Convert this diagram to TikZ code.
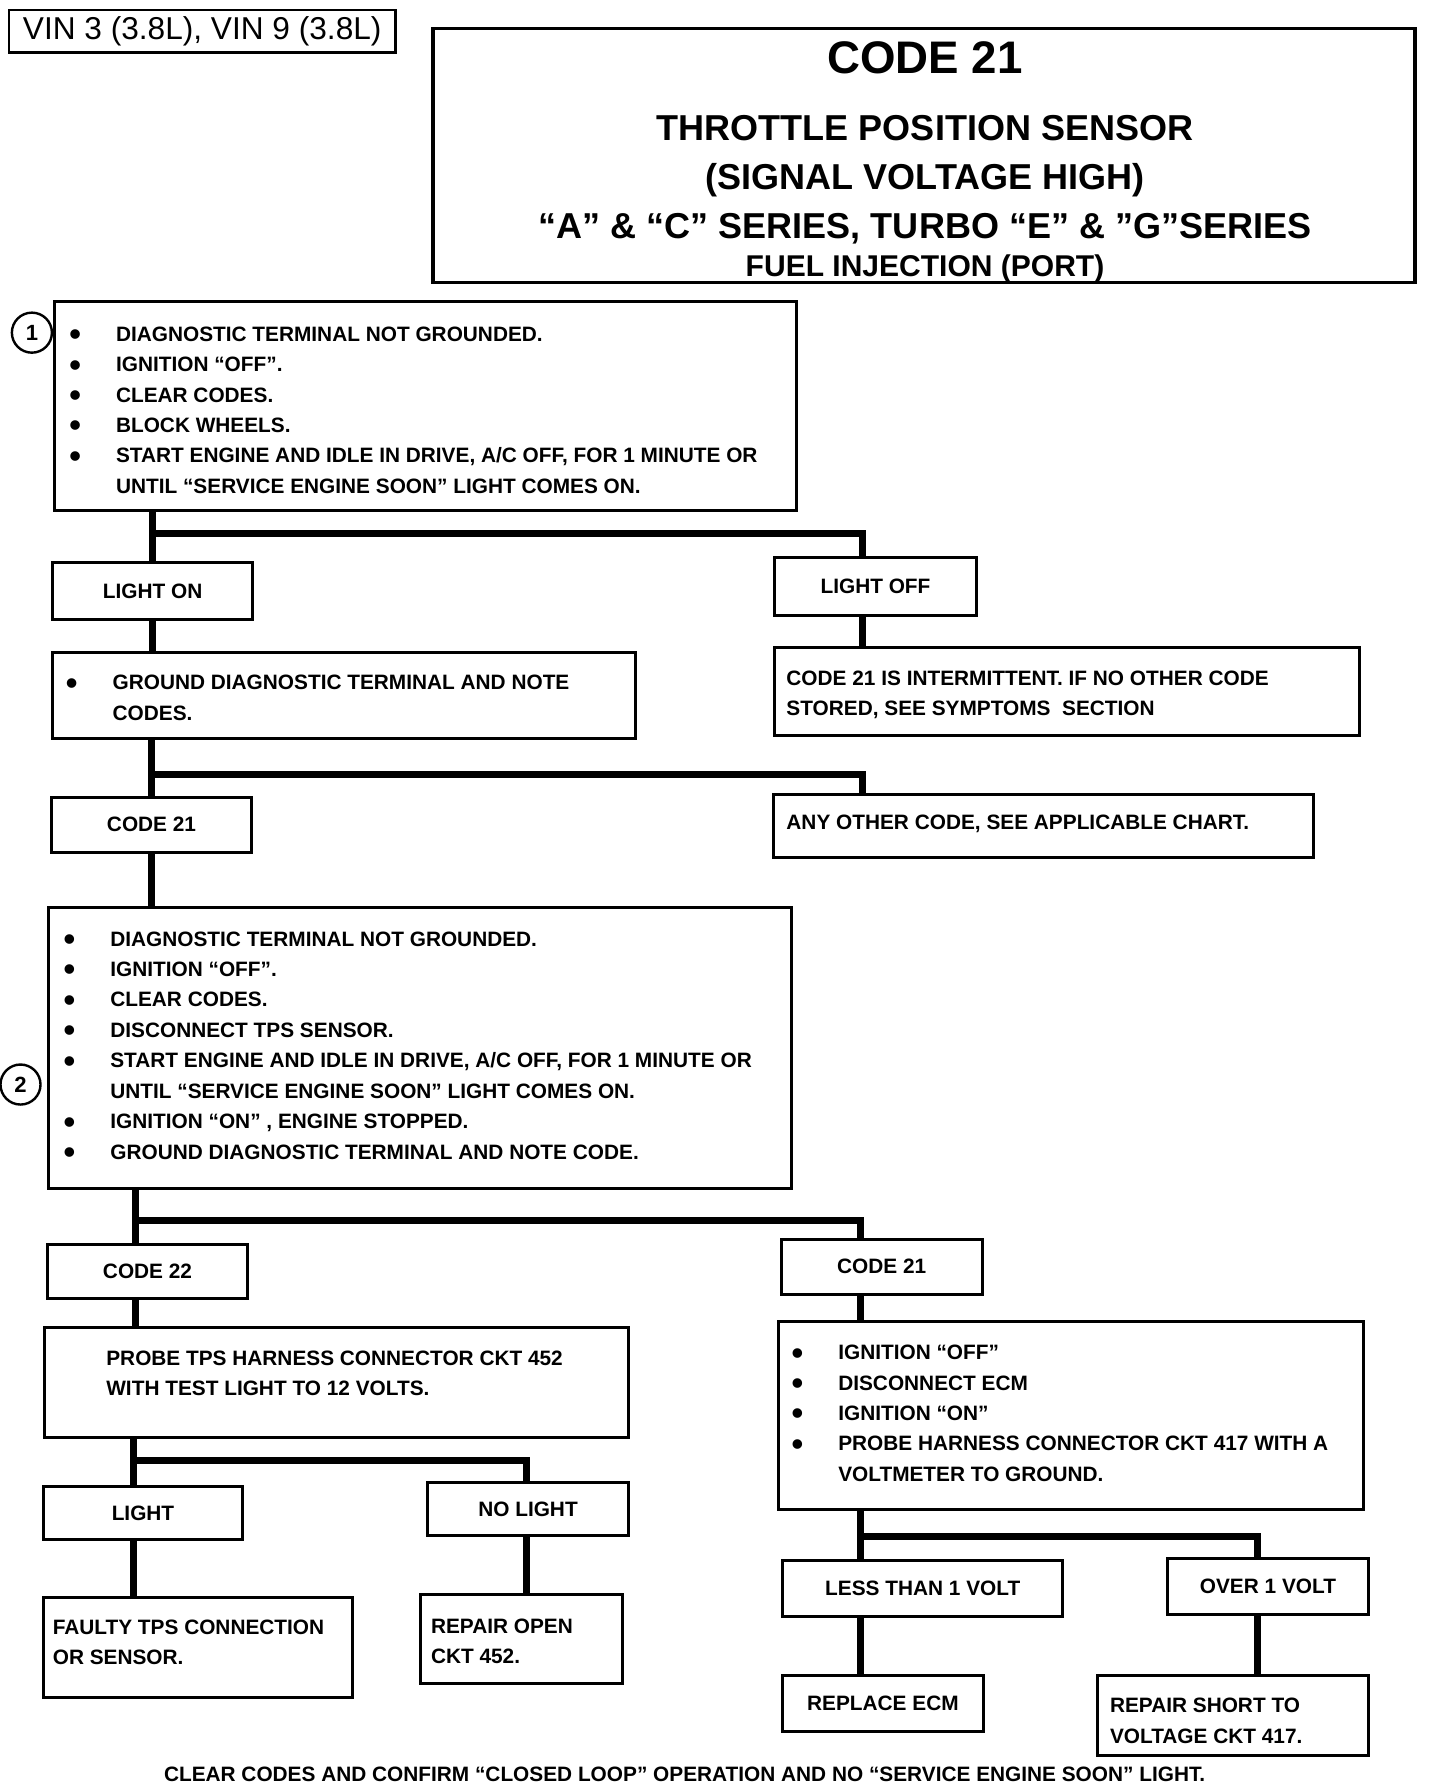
\documentclass[tikz,border=0pt]{standalone}
\usepackage{fontspec}
\usepackage{graphicx}
\setmainfont{Liberation Sans}
\usetikzlibrary{fit}

\newdimen\px \px=0.02cm
\newcommand\bigdot{\raisebox{-2.2pt}{\scalebox{1.6}{\textbullet}}}
\newcommand\bul{\makebox[41\px][l]{\smash{\bigdot}}}
\newcommand\nob{\hspace*{41\px}}

\begin{document}
\begin{tikzpicture}[x=0.02cm, y=-0.02cm,
  box/.style={draw, line width=1.5pt, inner sep=0pt},
  every label/.style={inner sep=0pt, font=\bfseries\fontsize{10.4}{15.2}\selectfont},
  txt/.style={inner sep=0pt, align=left, anchor=north west, font=\bfseries\fontsize{10.4}{15.2}\selectfont},
  head/.style={inner sep=0pt, anchor=base, font=\bfseries\fontsize{18}{20}\selectfont},
  link/.style={line width=3.6pt},
  num/.style={draw, circle, line width=1.2pt, minimum size=20pt, inner sep=0pt, font=\bfseries\fontsize{11}{12}\selectfont}]

\useasboundingbox (0,0) rectangle (1264,1566);

% header
\node[draw, line width=1.2pt, inner sep=0pt, fit={(8,9) (347,46)},
  label={[font=\fontsize{15.8}{18}\selectfont]center:VIN 3 (3.8L), VIN 9 (3.8L)}] (vin) {};
\node[draw, line width=1.8pt, inner sep=0pt, fit={(380,25) (1242,248)}] (title) {};
\node[head, font=\bfseries\fontsize{22.8}{24}\selectfont] (code) at (812,64.3) {CODE 21};
\node[head] (tps) at (812,123.3) {THROTTLE POSITION SENSOR};
\node[head] (signal) at (812,166.3) {(SIGNAL VOLTAGE HIGH)};
\node[head] (series) at (812,209.3) {“A” \& “C” SERIES, TURBO “E” \& ”G”SERIES};
\node[head, font=\bfseries\fontsize{15}{17}\selectfont] (fuel) at (812,242.4) {FUEL INJECTION (PORT)};

% boxes
\node[box, fit={(48,265) (699,448)}] (step1) {};
\node[box, fit={(46,494) (222,544)}, label=center:LIGHT ON] (lighton) {};
\node[box, fit={(680,489) (857,540)}, label=center:LIGHT OFF] (lightoff) {};
\node[box, fit={(46,573) (558,648)}] (ground) {};
\node[box, fit={(680,568) (1193,646)}] (intermit) {};
\node[box, fit={(45,700) (221,748)}, label=center:CODE 21] (code21a) {};
\node[box, fit={(679,697) (1153,753)}] (other) {};
\node[box, fit={(43,797) (695,1043)}] (step2) {};
\node[box, fit={(42,1092) (217,1140)}, label=center:CODE 22] (code22) {};
\node[box, fit={(686,1088) (862,1136)}, label=center:CODE 21] (code21b) {};
\node[box, fit={(39,1165) (552,1262)}] (probe) {};
\node[box, fit={(683,1160) (1197,1325)}] (ignoff) {};
\node[box, fit={(38,1305) (213,1351)}, label=center:LIGHT] (light) {};
\node[box, fit={(375,1301) (552,1348)}, label=center:NO LIGHT] (nolight) {};
\node[box, fit={(38,1402) (309,1490)}] (faulty) {};
\node[box, fit={(369,1400) (546,1478)}] (repopen) {};
\node[box, fit={(687,1370) (933,1419)}, label=center:LESS THAN 1 VOLT] (less) {};
\node[box, fit={(1025,1368) (1201,1417)}, label=center:OVER 1 VOLT] (over) {};
\node[box, fit={(687,1471) (863,1520)}, label=center:REPLACE ECM] (replace) {};
\node[box, fit={(963,1471) (1201,1541)}] (repshort) {};

% step numbers
\node[num] (n1) at (28,292) {1};
\node[num] (n2) at (18,952) {2};

% texts
\node[txt] (step1 text) at (60.5,286.4) {\bul DIAGNOSTIC TERMINAL NOT GROUNDED.\\
  \bul IGNITION “OFF”.\\
  \bul CLEAR CODES.\\
  \bul BLOCK WHEELS.\\
  \bul START ENGINE AND IDLE IN DRIVE, A/C OFF, FOR 1 MINUTE OR\\
  \nob UNTIL “SERVICE ENGINE SOON” LIGHT COMES ON.};
\node[txt] (ground text) at (57.5,592.4) {\bul GROUND DIAGNOSTIC TERMINAL AND NOTE\\
  \nob CODES.};
\node[txt] (intermit text) at (690,588.4) {CODE 21 IS INTERMITTENT. IF NO OTHER CODE\\
  STORED, SEE SYMPTOMS \ SECTION};
\node[txt] (other text) at (690,715.4) {ANY OTHER CODE, SEE APPLICABLE CHART.};
\node[txt] (step2 text) at (55.5,817.4) {\bul DIAGNOSTIC TERMINAL NOT GROUNDED.\\
  \bul IGNITION “OFF”.\\
  \bul CLEAR CODES.\\
  \bul DISCONNECT TPS SENSOR.\\
  \bul START ENGINE AND IDLE IN DRIVE, A/C OFF, FOR 1 MINUTE OR\\
  \nob UNTIL “SERVICE ENGINE SOON” LIGHT COMES ON.\\
  \bul IGNITION “ON” , ENGINE STOPPED.\\
  \bul GROUND DIAGNOSTIC TERMINAL AND NOTE CODE.};
\node[txt] (probe text) at (93,1185.4) {PROBE TPS HARNESS CONNECTOR CKT 452\\
  WITH TEST LIGHT TO 12 VOLTS.};
\node[txt] (ignoff text) at (694.5,1180.4) {\bul IGNITION “OFF”\\
  \bul DISCONNECT ECM\\
  \bul IGNITION “ON”\\
  \bul PROBE HARNESS CONNECTOR CKT 417 WITH A\\
  \nob VOLTMETER TO GROUND.};
\node[txt] (faulty text) at (46,1421.4) {FAULTY TPS CONNECTION\\
  OR SENSOR.};
\node[txt] (repopen text) at (378,1420.4) {REPAIR OPEN\\
  CKT 452.};
\node[txt] (repshort text) at (974,1490.4) {REPAIR SHORT TO\\
  VOLTAGE CKT 417.};
\node[txt, anchor=base] (footer) at (601,1563.5) {CLEAR CODES AND CONFIRM “CLOSED LOOP” OPERATION AND NO “SERVICE ENGINE SOON” LIGHT.};

% junctions
\coordinate (j1) at (134,468);  \coordinate (k1) at (757,468);
\coordinate (j2) at (133,680);  \coordinate (k2) at (757,680);
\coordinate (j3) at (119,1071); \coordinate (k3) at (755,1071);
\coordinate (j4) at (117,1282); \coordinate (k4) at (462,1282);
\coordinate (j5) at (755,1349); \coordinate (k5) at (1104,1349);

% links
\draw[link] (step1.south -| j1) -- (lighton.north -| j1);
\draw[link] (j1) -- (k1) -- (lightoff.north -| k1);
\draw[link] (lighton.south -| j1) -- (ground.north -| j1);
\draw[link] (lightoff.south -| k1) -- (intermit.north -| k1);
\draw[link] (ground.south -| j2) -- (code21a.north -| j2);
\draw[link] (j2) -- (k2) -- (other.north -| k2);
\draw[link] (code21a.south) -- (step2.north -| code21a.south);
\draw[link] (step2.south -| j3) -- (code22.north -| j3);
\draw[link] (j3) -- (k3) -- (code21b.north -| k3);
\draw[link] (code22.south -| j3) -- (probe.north -| j3);
\draw[link] (code21b.south -| k3) -- (ignoff.north -| k3);
\draw[link] (probe.south -| j4) -- (light.north -| j4);
\draw[link] (j4) -- (k4) -- (nolight.north -| k4);
\draw[link] (light.south -| j4) -- (faulty.north -| j4);
\draw[link] (nolight.south -| k4) -- (repopen.north -| k4);
\draw[link] (ignoff.south -| j5) -- (less.north -| j5);
\draw[link] (j5) -- (k5) -- (over.north -| k5);
\draw[link] (less.south -| j5) -- (replace.north -| j5);
\draw[link] (over.south -| k5) -- (repshort.north -| k5);
\end{tikzpicture}
\end{document}
